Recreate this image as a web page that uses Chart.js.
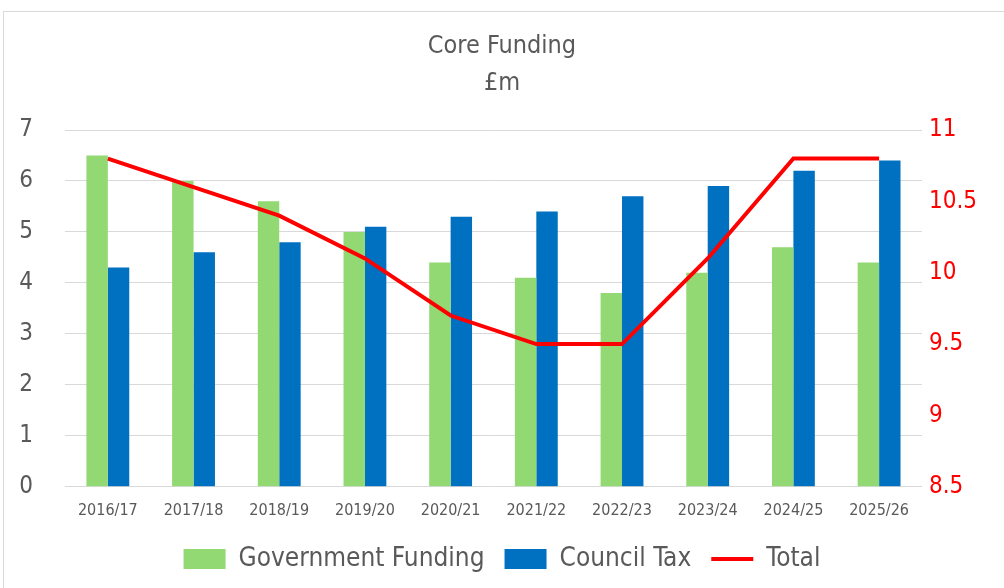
<!DOCTYPE html>
<html>
<head>
<meta charset="utf-8">
<script src="https://cdn.jsdelivr.net/npm/chart.js@4/dist/chart.umd.min.js"></script>
<style>
  html, body { margin: 0; padding: 0; background: #fff; }
  #frame { position: absolute; left: 3px; top: 11px; width: 1020px; height: 600px; border: 1px solid #d9d9d9; }
  #wrap { position: absolute; left: 0; top: 0; width: 1004px; height: 588px; }
</style>
</head>
<body>
<div id="frame"></div>
<div id="wrap"><canvas id="coreFunding"></canvas></div>
<script>
// values in £m
var years = ['2016/17', '2017/18', '2018/19', '2019/20', '2020/21', '2021/22', '2022/23', '2023/24', '2024/25', '2025/26'];
var govFunding = [6.5, 6.0, 5.6, 5.0, 4.4, 4.1, 3.8, 4.2, 4.7, 4.4];
var councilTax = [4.3, 4.6, 4.8, 5.1, 5.3, 5.4, 5.7, 5.9, 6.2, 6.4];
var total = [10.8, 10.6, 10.4, 10.1, 9.7, 9.5, 9.5, 10.1, 10.8, 10.8];

var font = "'Liberation Sans Narrow', 'DejaVu Sans Condensed', 'Liberation Sans', sans-serif";
var grey = '#595959';

var ctx = document.getElementById('coreFunding').getContext('2d');
var myChart = new Chart(ctx, {
    type: 'bar',
    data: {
        labels: years,
        datasets: [{
            label: 'Government Funding',
            data: govFunding,
            backgroundColor: '#92d873',
            borderWidth: 0,
            pointStyle: 'rect',
            yAxisID: 'y',
            order: 1
        }, {
            label: 'Council Tax',
            data: councilTax,
            backgroundColor: '#0070c0',
            borderWidth: 0,
            pointStyle: 'rect',
            yAxisID: 'y',
            order: 1
        }, {
            type: 'line',
            label: 'Total',
            data: total,
            borderColor: '#ff0000',
            backgroundColor: '#ff0000',
            borderWidth: 4,
            pointRadius: 0,
            pointStyle: 'line',
            tension: 0,
            yAxisID: 'y1',
            order: 0
        }]
    },
    options: {
        responsive: true,
        maintainAspectRatio: false,
        animation: false,
        datasets: {
            bar: { categoryPercentage: 0.5, barPercentage: 1.0 }
        },
        layout: { padding: { left: 20, right: 20, top: 18, bottom: 6 } },
        plugins: {
            title: {
                display: true,
                text: ['Core Funding', '£m'],
                color: grey,
                font: { family: font, size: 25, weight: 'normal', lineHeight: 1.48 },
                padding: { top: 10, bottom: 28 }
            },
            legend: {
                position: 'bottom',
                labels: {
                    usePointStyle: true,
                    pointStyleWidth: 42,
                    boxHeight: 20,
                    color: grey,
                    font: { family: font, size: 26 },
                    padding: 20,
                    sort: function(a, b) { return a.datasetIndex - b.datasetIndex; }
                }
            },
            tooltip: { enabled: false }
        },
        scales: {
            x: {
                grid: { display: false },
                border: { display: false },
                ticks: { color: grey, font: { family: font, size: 16 }, padding: 6 }
            },
            y: {
                position: 'left',
                min: 0,
                max: 7,
                ticks: { stepSize: 1, color: grey, font: { family: font, size: 24 }, padding: 32 },
                grid: { color: '#d9d9d9', lineWidth: 1, drawTicks: false },
                border: { display: false },
                afterFit: function(scale) { scale.width = 45; }
            },
            y1: {
                position: 'right',
                min: 8.5,
                max: 11,
                ticks: {
                    stepSize: 0.5,
                    color: '#ff0000',
                    font: { family: font, size: 24 },
                    padding: 7,
                    callback: function(v) { return String(v); }
                },
                grid: { display: false, drawTicks: false },
                border: { display: false }
            }
        }
    }
});
</script>
</body>
</html>
